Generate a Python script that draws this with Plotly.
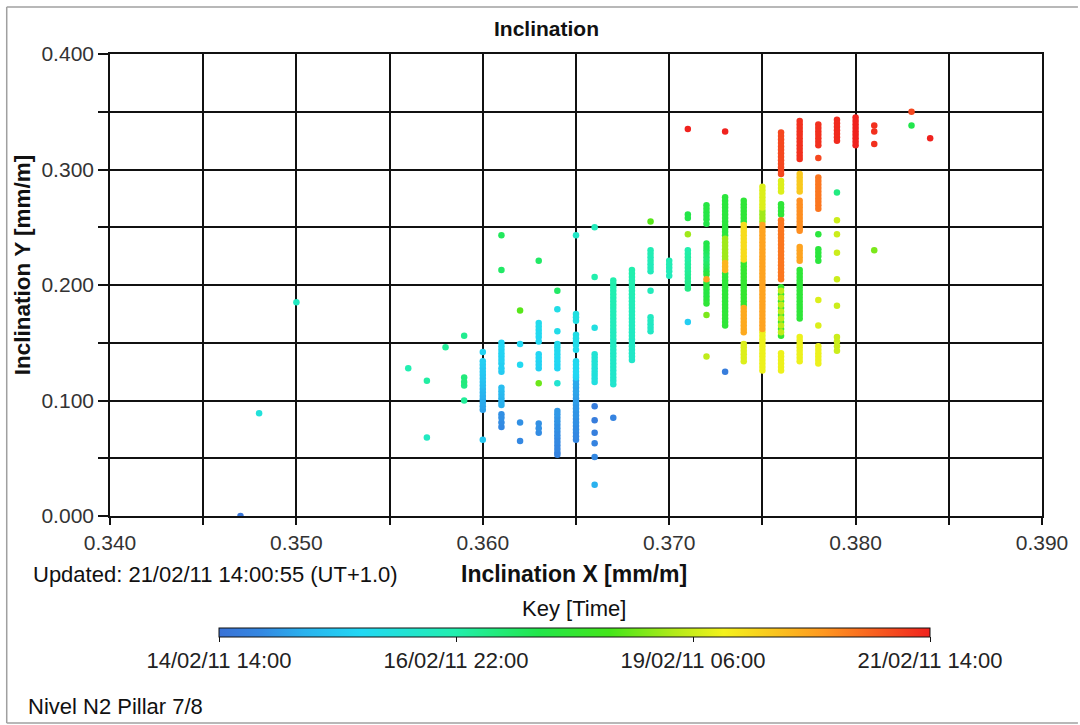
import plotly.graph_objects as go

# ---------------- data ----------------
# one entry per x column (mm/m); y values and time (hours after 14/02/11 14:00) per column
col_x = [0.347, 0.348, 0.350, 0.356, 0.357, 0.358, 0.359, 0.360, 0.361, 0.362,
         0.363, 0.364, 0.365, 0.366, 0.367, 0.368, 0.369, 0.370, 0.371, 0.372,
         0.373, 0.374, 0.375, 0.376, 0.377, 0.378, 0.379, 0.380, 0.381, 0.383, 0.384]

col_y = [
    [0.000],
    [0.089],
    [0.185],
    [0.128],
    [0.117, 0.068],
    [0.146],
    [0.156, 0.120, 0.116, 0.113, 0.100],
    [0.142, 0.134, 0.131, 0.128, 0.125, 0.122, 0.119, 0.116, 0.113, 0.110, 0.107, 0.104, 0.101, 0.098, 0.095, 0.092, 0.066],
    [0.243, 0.213, 0.150, 0.147, 0.144, 0.141, 0.138, 0.135, 0.132, 0.128, 0.125, 0.111, 0.108, 0.105, 0.102, 0.099, 0.096, 0.088, 0.085, 0.081, 0.077],
    [0.178, 0.149, 0.131, 0.081, 0.065],
    [0.221, 0.167, 0.164, 0.161, 0.158, 0.155, 0.151, 0.140, 0.137, 0.134, 0.131, 0.128, 0.115, 0.080, 0.076, 0.072],
    [0.195, 0.179, 0.160, 0.149, 0.146, 0.143, 0.140, 0.137, 0.134, 0.131, 0.128, 0.115, 0.091, 0.088, 0.085, 0.082, 0.079, 0.076, 0.073, 0.070, 0.067, 0.064, 0.061, 0.058, 0.055, 0.053],
    [0.243, 0.175, 0.172, 0.169, 0.157, 0.154, 0.151, 0.148, 0.144, 0.134, 0.131, 0.128, 0.125, 0.122, 0.120, 0.117, 0.114, 0.111, 0.108, 0.105, 0.102, 0.099, 0.096, 0.093, 0.090, 0.087, 0.084, 0.081, 0.078, 0.075, 0.072, 0.069, 0.066],
    [0.250, 0.207, 0.163, 0.140, 0.137, 0.134, 0.131, 0.128, 0.125, 0.122, 0.119, 0.116, 0.095, 0.083, 0.072, 0.063, 0.051, 0.027],
    [0.204, 0.201, 0.198, 0.195, 0.192, 0.189, 0.186, 0.183, 0.180, 0.177, 0.174, 0.171, 0.168, 0.165, 0.162, 0.159, 0.156, 0.153, 0.150, 0.147, 0.144, 0.141, 0.138, 0.135, 0.132, 0.129, 0.126, 0.123, 0.120, 0.117, 0.114, 0.085],
    [0.213, 0.210, 0.207, 0.204, 0.201, 0.198, 0.195, 0.192, 0.189, 0.186, 0.183, 0.180, 0.177, 0.174, 0.171, 0.168, 0.165, 0.162, 0.159, 0.156, 0.153, 0.150, 0.147, 0.144, 0.141, 0.138, 0.135],
    [0.255, 0.230, 0.227, 0.224, 0.221, 0.218, 0.215, 0.212, 0.195, 0.172, 0.169, 0.166, 0.163, 0.160],
    [0.221, 0.218, 0.215, 0.212, 0.208],
    [0.335, 0.261, 0.258, 0.244, 0.230, 0.227, 0.224, 0.221, 0.218, 0.215, 0.212, 0.209, 0.206, 0.203, 0.200, 0.197, 0.168],
    [0.269, 0.266, 0.263, 0.260, 0.257, 0.253, 0.236, 0.233, 0.230, 0.227, 0.224, 0.221, 0.218, 0.215, 0.212, 0.209, 0.205, 0.202, 0.199, 0.196, 0.193, 0.190, 0.187, 0.184, 0.174, 0.138],
    [0.333,
     0.276, 0.273, 0.270, 0.267, 0.264, 0.261, 0.258, 0.255, 0.252, 0.249, 0.246, 0.243,
     0.240, 0.237, 0.234, 0.231, 0.228, 0.225, 0.222,
     0.219, 0.216, 0.213,
     0.210, 0.207, 0.204, 0.201, 0.198, 0.195, 0.192, 0.189, 0.186, 0.183, 0.180, 0.177, 0.174, 0.171, 0.168, 0.165,
     0.125],
    [0.273, 0.270, 0.267, 0.264, 0.261, 0.258, 0.255,
     0.252, 0.249, 0.246, 0.243, 0.240, 0.237, 0.234, 0.231, 0.228, 0.225, 0.222,
     0.219, 0.216, 0.213, 0.210, 0.207, 0.204, 0.201, 0.198, 0.195, 0.192, 0.189, 0.186, 0.183,
     0.180, 0.177, 0.174, 0.171, 0.168, 0.165, 0.162, 0.159,
     0.149, 0.146, 0.143, 0.140, 0.137, 0.134],
    [0.285, 0.282, 0.279, 0.276, 0.273, 0.270, 0.267,
     0.264, 0.261, 0.258, 0.255,
     0.252, 0.249, 0.246, 0.243, 0.240, 0.237, 0.234, 0.231, 0.228, 0.225, 0.222, 0.219, 0.216, 0.213, 0.210, 0.207,
     0.204, 0.201, 0.198, 0.195, 0.192, 0.189, 0.186, 0.183, 0.180, 0.177, 0.174, 0.171, 0.168, 0.165, 0.162,
     0.159, 0.156, 0.153, 0.150, 0.147, 0.144, 0.141, 0.138, 0.135, 0.132, 0.129, 0.126],
    [0.332, 0.329, 0.326, 0.323, 0.320, 0.317, 0.314, 0.311, 0.308, 0.305, 0.302, 0.299, 0.296,
     0.290, 0.287, 0.284, 0.281,
     0.270, 0.267, 0.264, 0.261,
     0.256, 0.253, 0.250, 0.247, 0.244, 0.241, 0.238, 0.235, 0.232, 0.229, 0.226, 0.223, 0.220, 0.217, 0.214, 0.211, 0.208, 0.205,
     0.198, 0.195, 0.192, 0.189, 0.186, 0.183, 0.180, 0.177, 0.174, 0.171, 0.168, 0.165, 0.162, 0.159, 0.156,
     0.141, 0.138, 0.135, 0.132, 0.129, 0.126],
    [0.342, 0.339, 0.336, 0.333, 0.330, 0.327, 0.324, 0.321, 0.318, 0.315, 0.312, 0.309,
     0.296, 0.293, 0.290, 0.287, 0.284, 0.281,
     0.273, 0.270, 0.267, 0.264, 0.261, 0.258, 0.255, 0.252, 0.249, 0.247,
     0.233, 0.230, 0.227, 0.224, 0.221,
     0.213, 0.210, 0.207, 0.204, 0.201, 0.198, 0.195, 0.192, 0.189, 0.186, 0.183, 0.180, 0.177, 0.174, 0.171,
     0.155, 0.152, 0.149, 0.146, 0.143, 0.140, 0.137, 0.134],
    [0.339, 0.336, 0.333, 0.330, 0.327, 0.324, 0.321, 0.310,
     0.293, 0.290, 0.287, 0.284, 0.281, 0.278, 0.275, 0.272, 0.269, 0.266,
     0.244, 0.231, 0.228, 0.225, 0.221, 0.187, 0.165,
     0.147, 0.144, 0.141, 0.138, 0.135, 0.132],
    [0.343, 0.340, 0.337, 0.334, 0.331, 0.328, 0.325, 0.280,
     0.256, 0.244, 0.228, 0.205, 0.182, 0.155, 0.151, 0.147, 0.143],
    [0.345, 0.342, 0.339, 0.336, 0.333, 0.330, 0.327, 0.324, 0.321],
    [0.338, 0.333, 0.322, 0.230],
    [0.350, 0.338],
    [0.327],
]

col_t = [
    [2],
    [42],
    [50],
    [55],
    [58, 50],
    [60],
    [62, 66, 66, 64, 60],
    [32, 30, 29, 28, 28, 27, 26, 25, 24, 22, 21, 20, 19, 18, 17, 16, 28],
    [72, 70, 33, 33, 32, 32, 31, 31, 30, 30, 29, 24, 23, 22, 21, 20, 20, 12, 12, 11, 10],
    [95, 34, 35, 12, 10],
    [70, 36, 36, 35, 35, 34, 34, 33, 33, 32, 32, 31, 98, 12, 12, 11],
    [70, 38, 37, 36, 36, 35, 35, 34, 34, 33, 33, 45, 14, 14, 13, 13, 12, 12, 11, 11, 10, 10, 9, 9, 8, 8],
    [48, 40, 40, 39, 38, 38, 37, 37, 36, 35, 35, 34, 34, 33, 32, 18, 18, 17, 17, 16, 15, 15, 14, 14, 13, 13, 12, 12, 11, 11, 10, 10, 9],
    [52, 56, 40, 44, 44, 43, 43, 42, 42, 41, 41, 40, 5, 5, 6, 8, 10, 20],
    [56, 56, 55, 55, 55, 54, 54, 54, 53, 53, 53, 52, 52, 52, 51, 51, 51, 50, 50, 50, 49, 49, 49, 48, 48, 48, 47, 47, 47, 46, 46, 8],
    [56, 56, 55, 55, 55, 54, 54, 54, 53, 53, 53, 52, 52, 52, 51, 51, 51, 50, 50, 50, 49, 49, 49, 48, 48, 48, 47],
    [95, 54, 54, 53, 53, 52, 52, 52, 52, 50, 50, 49, 49, 49],
    [54, 54, 53, 53, 52],
    [168, 76, 76, 105, 56, 57, 58, 58, 59, 60, 60, 61, 62, 62, 63, 64, 30],
    [78, 78, 77, 77, 77, 76, 76, 75, 72, 70, 68, 68, 70, 72, 75, 80, 140, 80, 80, 78, 78, 78, 80, 82, 100, 110],
    [168,
     80, 80, 80, 80, 80, 80, 80, 80, 80, 80, 80, 80,
     105, 105, 105, 105, 105, 105, 105,
     135, 135, 135,
     82, 82, 82, 82, 82, 82, 82, 82, 82, 82, 82, 82, 82, 82, 82, 82,
     5],
    [82, 82, 82, 82, 82, 82, 82,
     125, 125, 125, 125, 125, 125, 125, 125, 125, 125, 125,
     85, 85, 85, 85, 85, 85, 85, 85, 85, 85, 85, 85, 85,
     138, 138, 138, 138, 138, 138, 138, 138,
     115, 115, 115, 115, 115, 115],
    [115, 115, 115, 115, 115, 115, 115,
     105, 105, 105, 105,
     140, 140, 140, 140, 140, 140, 140, 140, 140, 140, 140, 140, 140, 140, 140, 140,
     140, 140, 140, 140, 140, 140, 140, 140, 140, 140, 140, 140, 140, 140, 140,
     118, 118, 118, 118, 118, 118, 118, 118, 118, 118, 118, 118],
    [160, 160, 160, 160, 160, 160, 160, 160, 160, 160, 160, 160, 160,
     115, 115, 115, 115,
     82, 82, 82, 82,
     150, 150, 150, 150, 150, 150, 150, 150, 150, 150, 150, 150, 150, 150, 150, 150, 150, 150,
     85, 110, 85, 110, 85, 110, 85, 110, 85, 110, 85, 110, 85, 110, 85,
     118, 118, 118, 118, 118, 118],
    [165, 165, 165, 165, 165, 165, 165, 165, 165, 165, 165, 165,
     130, 130, 130, 130, 130, 130,
     145, 145, 145, 145, 145, 145, 145, 145, 145, 145,
     140, 140, 140, 140, 140,
     82, 82, 82, 82, 82, 82, 82, 82, 82, 82, 82, 82, 82, 82, 82,
     118, 118, 118, 118, 118, 118, 118, 118],
    [165, 165, 165, 165, 165, 165, 165, 160,
     150, 150, 150, 150, 150, 150, 150, 150, 150, 150,
     80, 80, 80, 80, 80, 115, 115,
     118, 118, 118, 118, 118, 118],
    [166, 166, 166, 166, 166, 166, 166, 65,
     112, 112, 112, 112, 112, 112, 112, 112, 112],
    [168, 168, 168, 168, 168, 168, 168, 168, 168],
    [165, 165, 165, 100],
    [160, 75],
    [168],
]

time_tick_vals = [0, 56, 112, 168]
time_tick_text = ["14/02/11 14:00", "16/02/11 22:00", "19/02/11 06:00", "21/02/11 14:00"]

x_tick_vals = [0.340, 0.345, 0.350, 0.355, 0.360, 0.365, 0.370, 0.375, 0.380, 0.385, 0.390]
x_tick_text = ["0.340", "", "0.350", "", "0.360", "", "0.370", "", "0.380", "", "0.390"]
y_tick_vals = [0.000, 0.050, 0.100, 0.150, 0.200, 0.250, 0.300, 0.350, 0.400]
y_tick_text = ["0.000", "", "0.100", "", "0.200", "", "0.300", "", "0.400"]

# ---------------- build points ----------------
pts = []
for cx, ys, ts in zip(col_x, col_y, col_t):
    for yv, tv in zip(ys, ts):
        pts.append((tv, cx, yv))
pts.sort(key=lambda p: p[0])
px = [p[1] for p in pts]
py = [p[2] for p in pts]
pt = [p[0] for p in pts]

W, H = 1080, 725
L, R, T, B = 110, 1044, 54, 516
PW, PH = R - L, B - T


def fx(x):
    return (x - L) / PW


def fy(y):
    return (B - y) / PH


colorscale = [
    [0.00, "#3a72d6"], [0.06, "#3488e2"], [0.12, "#2ab2ee"], [0.20, "#22d8f4"],
    [0.33, "#22efb0"], [0.45, "#22e64a"], [0.55, "#44e61a"], [0.64, "#b2ea1a"],
    [0.71, "#f4f21c"], [0.85, "#ff9820"], [1.00, "#f0221e"],
]

FONT = "Liberation Sans, Arial, sans-serif"

fig = go.Figure()
fig.add_trace(go.Scatter(
    x=px, y=py, mode="markers",
    marker=dict(
        size=6.5, color=pt, cmin=0, cmax=168, colorscale=colorscale,
        line=dict(width=0),
        colorbar=dict(
            orientation="h", thickness=9, len=711, lenmode="pixels",
            x=fx(575.5), xanchor="center", y=fy(628), yanchor="top",
            xpad=0, ypad=0, outlinecolor="#111", outlinewidth=1,
            tickvals=time_tick_vals, ticktext=time_tick_text,
            ticks="outside", ticklen=5, tickcolor="#111",
            tickfont=dict(family=FONT, size=22, color="#222"),
        ),
    ),
    hoverinfo="skip", showlegend=False,
))

fig.update_xaxes(
    range=[0.340, 0.390], tickvals=x_tick_vals, ticktext=x_tick_text,
    showgrid=True, gridcolor="#111", gridwidth=1.6,
    showline=True, linecolor="#111", linewidth=1.6, mirror=True,
    ticks="outside", ticklen=7, tickcolor="#111", tickwidth=1.6,
    tickfont=dict(family=FONT, size=21, color="#333"), zeroline=False,
)
fig.update_yaxes(
    range=[0.0, 0.400], tickvals=y_tick_vals, ticktext=y_tick_text,
    showgrid=True, gridcolor="#111", gridwidth=1.6,
    showline=True, linecolor="#111", linewidth=1.6, mirror=True,
    ticks="outside", ticklen=10, tickcolor="#111", tickwidth=1.6,
    tickfont=dict(family=FONT, size=21, color="#333"), zeroline=False,
)

ann = [
    dict(text="<b>Inclination</b>", x=fx(547), y=fy(28), size=21, xanchor="center"),
    dict(text="<b>Inclination X [mm/m]</b>", x=fx(575), y=fy(574), size=23, xanchor="center"),
    dict(text="Updated: 21/02/11 14:00:55 (UT+1.0)", x=fx(31), y=fy(574), size=22, xanchor="left"),
    dict(text="Key [Time]", x=fx(575), y=fy(608), size=22, xanchor="center"),
    dict(text="Nivel N2 Pillar 7/8", x=fx(26), y=fy(706), size=22, xanchor="left"),
]
annotations = []
for a in ann:
    annotations.append(dict(
        text=a["text"], x=a["x"], y=a["y"], xref="paper", yref="paper",
        xanchor=a["xanchor"], yanchor="middle", showarrow=False,
        font=dict(family=FONT, size=a["size"], color="#111"),
    ))
annotations.append(dict(
    text="<b>Inclination Y [mm/m]</b>", x=fx(22), y=fy(265), xref="paper", yref="paper",
    xanchor="center", yanchor="middle", showarrow=False, textangle=-90,
    font=dict(family=FONT, size=22.5, color="#111"),
))

shapes = [
    dict(type="line", xref="paper", yref="paper", x0=fx(6.5), x1=fx(6.5), y0=fy(7), y1=fy(723),
         line=dict(color="#a0a0a0", width=1.5)),
    dict(type="line", xref="paper", yref="paper", x0=fx(6.5), x1=fx(1080), y0=fy(7), y1=fy(7),
         line=dict(color="#a0a0a0", width=1.5)),
    dict(type="line", xref="paper", yref="paper", x0=fx(6.5), x1=fx(1080), y0=fy(723), y1=fy(723),
         line=dict(color="#a0a0a0", width=1.5)),
]

fig.update_layout(
    width=W, height=H,
    margin=dict(l=L, r=W - R, t=T, b=H - B, pad=0),
    paper_bgcolor="white", plot_bgcolor="white",
    annotations=annotations, shapes=shapes,
    font=dict(family=FONT),
)

fig.write_html(
    "out.html",
    config={"displayModeBar": False},
    post_script="document.body.style.margin='0';document.body.style.overflow='hidden';",
)
